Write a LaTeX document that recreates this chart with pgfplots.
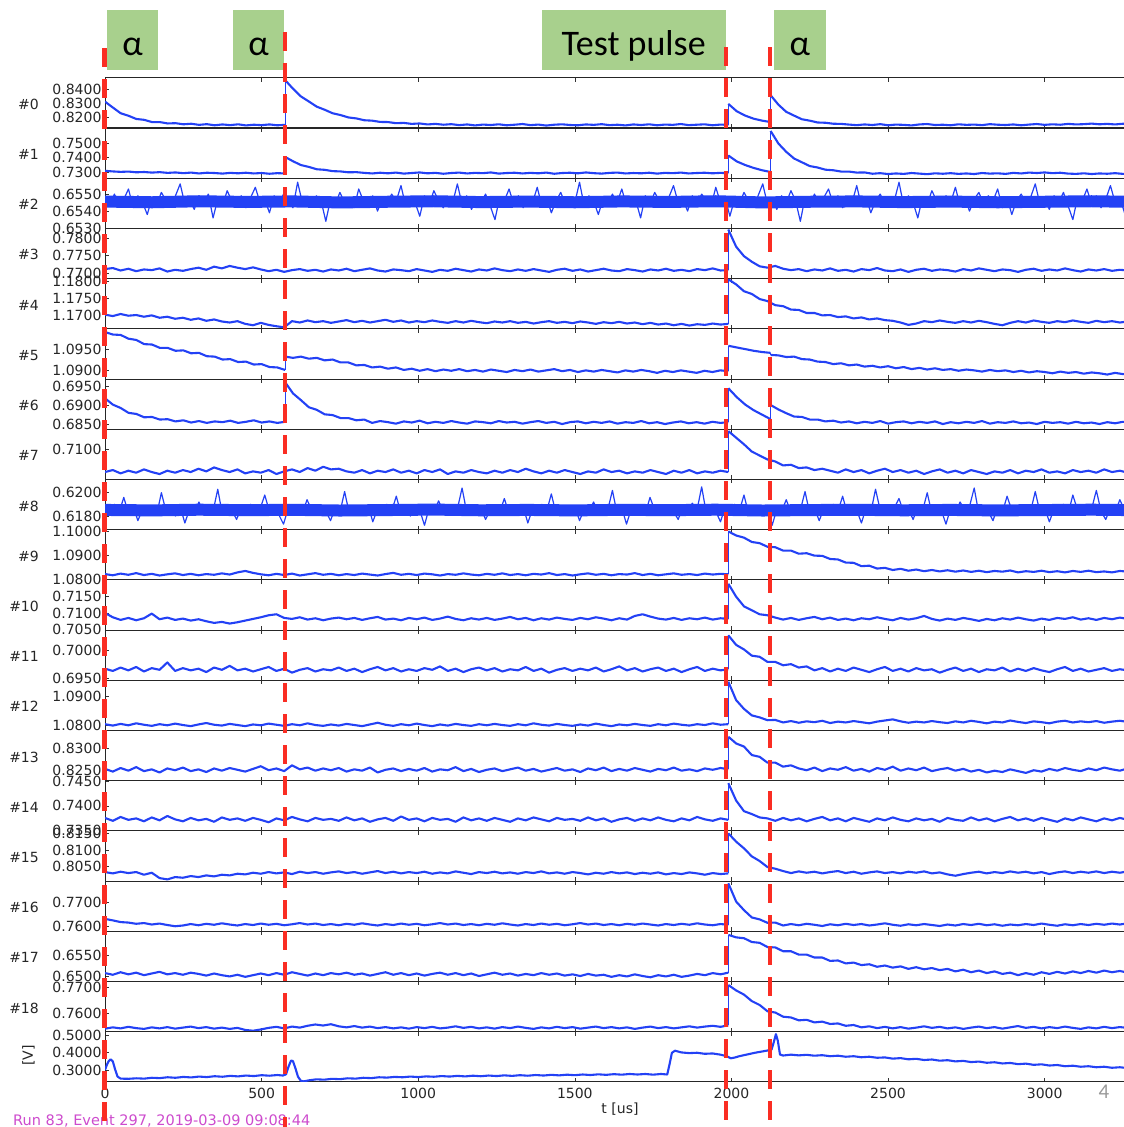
\documentclass[border=0pt]{standalone}
\usepackage{pgfplots}
\pgfplotsset{compat=1.18}
\usepackage{fontspec}
\setmainfont{DejaVu Sans}
\newfontfamily\carl{Carlito}
\definecolor{trc}{RGB}{35,65,245}
\definecolor{rdc}{RGB}{250,45,35}
\definecolor{gbc}{RGB}{168,208,141}
\definecolor{mgc}{RGB}{205,75,205}
\newcommand\tl{\fontsize{14}{14}\selectfont}
\pgfplotsset{
 panel/.style={scale only axis,width=1024.2pt,height=50.2pt,anchor=north west,
  xmin=0,xmax=3270,xtick={0,500,...,3000},xticklabels={},scaled y ticks=false,scaled x ticks=false,
  tick align=inside,major tick length=4pt,tick style={black!80,line width=0.6pt},
  axis line style={black!85,line width=0.8pt},
  yticklabel style={font=\tl,text=black!85},
  xticklabel style={font=\tl,text=black!85,yshift=-3pt}},
 tr/.style={color=trc,line width=2.1pt,mark=none,line join=round},
 jp/.style={color=trc,line width=1.1pt,mark=none},
 core/.style={color=trc,line width=12pt,mark=none,line join=round}
}
\begin{document}
\begin{tikzpicture}
\path[use as bounding box] (0,0) rectangle (1124pt,-1127pt);
% ---------- #0
\begin{axis}[panel,at={(105pt,-77.7pt)},ymin=0.81243,ymax=0.84829,ytick={0.82,0.83,0.84},yticklabels={0.8200,0.8300,0.8400}]
\addplot[tr] table[x expr=\coordindex*25,y index=0,header=false,row sep=\\]{0.8312\\0.8270\\0.8229\\0.8211\\0.8188\\0.8182\\0.8166\\0.8166\\0.8156\\0.8158\\0.8150\\0.8154\\0.8146\\0.8151\\0.8143\\0.8149\\0.8144\\0.8150\\0.8142\\0.8147\\0.8144\\0.8149\\0.8143\\0.8146\\};
\addplot[jp] coordinates{(575,0.8146)(575,0.8466)};
\addplot[tr] table[x expr=575+\coordindex*25.268,y index=0,header=false,row sep=\\]{0.8466\\0.8404\\0.8349\\0.8313\\0.8276\\0.8254\\0.8229\\0.8216\\0.8199\\0.8192\\0.8179\\0.8176\\0.8167\\0.8166\\0.8158\\0.8160\\0.8153\\0.8156\\0.8149\\0.8153\\0.8147\\
0.8151\\0.8144\\0.8149\\0.8142\\0.8148\\0.8145\\0.8150\\0.8143\\0.8147\\0.8152\\0.8144\\0.8148\\0.8141\\0.8147\\0.8150\\0.8145\\0.8143\\0.8149\\0.8146\\0.8151\\0.8144\\0.8147\\0.8142\\0.8149\\0.8145\\0.8150\\0.8143\\0.8148\\0.8146\\0.8152\\0.8144\\0.8147\\0.8150\\0.8143\\0.8148\\0.8146\\};
\addplot[jp] coordinates{(1990,0.8146)(1990,0.8296)};
\addplot[tr] table[x expr=1990+\coordindex*27,y index=0,header=false,row sep=\\]{0.8296\\0.8243\\0.8212\\0.8190\\0.8176\\0.8166\\};
\addplot[jp] coordinates{(2125,0.8166)(2125,0.8358)};
\addplot[tr] table[x expr=2125+\coordindex*25,y index=0,header=false,row sep=\\]{0.8358\\0.8290\\0.8239\\0.8212\\0.8186\\0.8176\\0.8163\\0.8161\\0.8154\\0.8153\\0.8148\\
0.8144\\0.8149\\0.8145\\0.8151\\0.8143\\0.8148\\0.8146\\0.8142\\0.8149\\0.8152\\0.8145\\0.8147\\0.8143\\0.8150\\0.8146\\0.8148\\0.8144\\0.8151\\0.8147\\0.8145\\0.8149\\0.8143\\0.8148\\0.8152\\0.8146\\0.8150\\0.8147\\0.8153\\0.8149\\0.8151\\0.8155\\0.8150\\0.8153\\0.8149\\0.8154\\0.8151\\};
\end{axis}
% ---------- #1
\begin{axis}[panel,at={(105pt,-127.9pt)},ymin=0.7260,ymax=0.7606,ytick={0.73,0.74,0.75},yticklabels={0.7300,0.7400,0.7500}]
\addplot[tr] table[x expr=\coordindex*25,y index=0,header=false,row sep=\\]{0.7310\\0.7306\\0.7303\\0.7305\\0.7300\\0.7302\\0.7298\\0.7301\\0.7296\\0.7299\\0.7294\\0.7298\\0.7292\\0.7297\\0.7295\\0.7291\\0.7296\\0.7293\\0.7297\\0.7292\\0.7295\\0.7290\\0.7294\\0.7292\\};
\addplot[jp] coordinates{(575,0.7292)(575,0.7406)};
\addplot[tr] table[x expr=575+\coordindex*25.268,y index=0,header=false,row sep=\\]{0.7406\\0.7376\\0.7350\\0.7337\\0.7321\\0.7317\\0.7308\\0.7306\\0.7300\\0.7301\\0.7296\\
0.7292\\0.7297\\0.7293\\0.7298\\0.7291\\0.7295\\0.7299\\0.7293\\0.7296\\0.7290\\0.7295\\0.7298\\0.7292\\0.7296\\0.7294\\0.7299\\0.7291\\0.7295\\0.7297\\0.7292\\0.7296\\0.7293\\0.7298\\0.7290\\0.7295\\0.7297\\0.7293\\0.7299\\0.7294\\0.7291\\0.7296\\0.7298\\0.7292\\0.7295\\0.7293\\0.7297\\0.7291\\0.7296\\0.7294\\0.7298\\0.7292\\0.7295\\0.7297\\0.7293\\0.7296\\0.7294\\};
\addplot[jp] coordinates{(1990,0.7294)(1990,0.7416)};
\addplot[tr] table[x expr=1990+\coordindex*27,y index=0,header=false,row sep=\\]{0.7416\\0.7375\\0.7350\\0.7330\\0.7314\\0.7302\\};
\addplot[jp] coordinates{(2125,0.7302)(2125,0.7585)};
\addplot[tr] table[x expr=2125+\coordindex*25,y index=0,header=false,row sep=\\]{0.7585\\0.7498\\0.7441\\0.7395\\0.7369\\0.7343\\0.7333\\0.7318\\0.7314\\0.7305\\0.7305\\0.7298\\0.7299\\
0.7290\\0.7294\\0.7288\\0.7292\\0.7289\\0.7295\\0.7291\\0.7287\\0.7293\\0.7290\\0.7294\\0.7289\\0.7292\\0.7288\\0.7295\\0.7291\\0.7293\\0.7289\\0.7296\\0.7292\\0.7298\\0.7295\\0.7299\\0.7294\\0.7297\\0.7291\\0.7289\\0.7293\\0.7288\\0.7292\\0.7290\\0.7294\\0.7289\\0.7292\\};
\end{axis}
% ---------- #2
\begin{axis}[panel,at={(105pt,-178.1pt)},ymin=0.65299,ymax=0.65594,ytick={0.653,0.654,0.655},yticklabels={0.6530,0.6540,0.6550}]
\addplot[core] table[x expr=\coordindex*150,y index=0,header=false,row sep=\\]{0.65456\\0.65452\\0.65458\\0.65454\\0.65457\\0.65451\\0.65455\\0.65458\\0.65453\\0.65456\\0.65452\\0.65457\\0.65454\\0.65458\\0.65451\\0.65455\\0.65457\\0.65453\\0.65456\\0.65452\\0.65455\\0.65458\\0.65454\\};
\addplot[tr,line width=1.2pt] table[x expr=\coordindex*15,y index=0,header=false,row sep=\\]{
0.6548\\0.6543\\0.6550\\0.6544\\0.6547\\0.6553\\0.6542\\0.6549\\0.6545\\0.6538\\0.6548\\0.6544\\0.6551\\0.6546\\0.6543\\
0.6549\\0.6556\\0.6544\\0.6547\\0.6541\\0.6549\\0.6545\\0.6550\\0.6536\\0.6547\\0.6543\\0.6552\\0.6546\\0.6544\\0.6549\\
0.6542\\0.6548\\0.6554\\0.6545\\0.6547\\0.6539\\0.6549\\0.6544\\0.6550\\0.6546\\0.6542\\0.6557\\0.6545\\0.6548\\0.6543\\
0.6549\\0.6546\\0.6534\\0.6547\\0.6544\\0.6551\\0.6545\\0.6548\\0.6542\\0.6553\\0.6546\\0.6543\\0.6549\\0.6540\\0.6547\\
0.6544\\0.6550\\0.6546\\0.6555\\0.6543\\0.6548\\0.6545\\0.6537\\0.6549\\0.6544\\0.6552\\0.6546\\0.6542\\0.6548\\0.6545\\
0.6556\\0.6544\\0.6549\\0.6541\\0.6547\\0.6545\\0.6550\\0.6543\\0.6535\\0.6548\\0.6546\\0.6553\\0.6544\\0.6549\\0.6542\\
0.6547\\0.6545\\0.6554\\0.6543\\0.6548\\0.6539\\0.6546\\0.6551\\0.6544\\0.6548\\0.6545\\0.6557\\0.6543\\0.6549\\0.6546\\
0.6538\\0.6547\\0.6544\\0.6550\\0.6545\\0.6553\\0.6543\\0.6548\\0.6546\\0.6536\\0.6549\\0.6544\\0.6551\\0.6546\\0.6543\\
0.6548\\0.6555\\0.6545\\0.6547\\0.6540\\0.6549\\0.6544\\0.6550\\0.6546\\0.6543\\0.6554\\0.6545\\0.6548\\0.6537\\0.6547\\
0.6544\\0.6551\\0.6546\\0.6543\\0.6549\\0.6556\\0.6544\\0.6547\\0.6541\\0.6549\\0.6545\\0.6552\\0.6546\\0.6534\\0.6548\\
0.6543\\0.6550\\0.6545\\0.6548\\0.6553\\0.6544\\0.6549\\0.6542\\0.6547\\0.6545\\0.6555\\0.6543\\0.6548\\0.6539\\0.6546\\
0.6550\\0.6544\\0.6548\\0.6546\\0.6557\\0.6543\\0.6549\\0.6545\\0.6536\\0.6548\\0.6544\\0.6552\\0.6546\\0.6543\\0.6549\\
0.6545\\0.6554\\0.6543\\0.6548\\0.6540\\0.6547\\0.6551\\0.6544\\0.6549\\0.6546\\0.6553\\0.6542\\0.6548\\0.6538\\0.6546\\
0.6550\\0.6545\\0.6548\\0.6556\\0.6544\\0.6547\\0.6541\\0.6549\\0.6545\\0.6551\\0.6543\\0.6535\\0.6548\\0.6546\\0.6553\\
0.6544\\0.6549\\0.6542\\0.6547\\0.6555\\0.6545\\0.6548\\0.6539\\0.6546\\};
\end{axis}
% ---------- #3
\begin{axis}[panel,at={(105pt,-228.3pt)},ymin=0.76851,ymax=0.78286,ytick={0.77,0.775,0.78},yticklabels={0.7700,0.7750,0.7800}]
\addplot[tr] table[x expr=\coordindex*24.875,y index=0,header=false,row sep=\\]{
0.7712\\0.7715\\0.7708\\0.7713\\0.7706\\0.7711\\0.7709\\0.7714\\0.7705\\0.7710\\
0.7707\\0.7712\\0.7716\\0.7710\\0.7719\\0.7714\\0.7721\\0.7716\\0.7712\\0.7717\\
0.7711\\0.7706\\0.7710\\0.7704\\0.7709\\0.7712\\0.7707\\0.7710\\0.7705\\0.7711\\
0.7708\\0.7713\\0.7706\\0.7710\\0.7714\\0.7708\\0.7705\\0.7711\\0.7709\\0.7706\\
0.7712\\0.7708\\0.7704\\0.7710\\0.7707\\0.7713\\0.7709\\0.7705\\0.7711\\0.7708\\
0.7714\\0.7709\\0.7706\\0.7711\\0.7707\\0.7712\\0.7708\\0.7704\\0.7710\\0.7713\\
0.7707\\0.7711\\0.7705\\0.7709\\0.7713\\0.7708\\0.7706\\0.7712\\0.7709\\0.7705\\
0.7711\\0.7708\\0.7713\\0.7707\\0.7710\\0.7706\\0.7712\\0.7709\\0.7714\\0.7708\\0.7709\\};
\addplot[jp] coordinates{(1990,0.7709)(1990,0.7825)};
\addplot[tr] table[x expr=1990+\coordindex*25,y index=0,header=false,row sep=\\]{
0.7825\\0.7776\\0.7749\\0.7733\\0.7720\\0.7716\\0.7721\\0.7713\\0.7709\\0.7712\\
0.7706\\0.7711\\0.7708\\0.7714\\0.7707\\0.7710\\0.7705\\0.7712\\0.7709\\0.7715\\
0.7708\\0.7706\\0.7711\\0.7704\\0.7710\\0.7713\\0.7707\\0.7711\\0.7709\\0.7705\\
0.7712\\0.7708\\0.7714\\0.7710\\0.7706\\0.7711\\0.7709\\0.7704\\0.7710\\0.7713\\
0.7707\\0.7711\\0.7708\\0.7714\\0.7709\\0.7705\\0.7711\\0.7708\\0.7712\\0.7707\\0.7710\\0.7708\\};
\end{axis}
% ---------- #4
\begin{axis}[panel,at={(105pt,-278.5pt)},ymin=1.16618,ymax=1.18094,ytick={1.17,1.175,1.18},yticklabels={1.1700,1.1750,1.1800}]
\addplot[tr] table[x expr=\coordindex*24.875,y index=0,header=false,row sep=\\]{
1.1703\\1.1699\\1.1705\\1.1700\\1.1702\\1.1697\\1.1701\\1.1694\\1.1697\\1.1691\\
1.1694\\1.1688\\1.1692\\1.1685\\1.1689\\1.1683\\1.1680\\1.1684\\1.1676\\1.1672\\
1.1679\\1.1673\\1.1669\\1.1666\\1.1684\\1.1680\\1.1686\\1.1681\\1.1684\\1.1679\\
1.1683\\1.1687\\1.1681\\1.1685\\1.1680\\1.1684\\1.1688\\1.1682\\1.1686\\1.1680\\
1.1684\\1.1681\\1.1686\\1.1682\\1.1679\\1.1684\\1.1680\\1.1685\\1.1681\\1.1678\\
1.1683\\1.1680\\1.1684\\1.1679\\1.1682\\1.1677\\1.1681\\1.1684\\1.1679\\1.1682\\
1.1678\\1.1683\\1.1680\\1.1676\\1.1681\\1.1678\\1.1682\\1.1677\\1.1680\\1.1675\\
1.1679\\1.1674\\1.1677\\1.1672\\1.1676\\1.1671\\1.1675\\1.1673\\1.1677\\1.1674\\1.1676\\};
\addplot[jp] coordinates{(1990,1.1676)(1990,1.1807)};
\addplot[tr] table[x expr=1990+\coordindex*25,y index=0,header=false,row sep=\\]{
1.1807\\1.1792\\1.1772\\1.1764\\1.1749\\1.1743\\1.1731\\1.1728\\1.1718\\1.1717\\1.1708\\1.1708\\1.1701\\1.1702\\1.1696\\1.1698\\1.1692\\1.1695\\1.1689\\1.1692\\1.1687\\
1.1685\\1.1680\\1.1673\\1.1677\\1.1684\\1.1681\\1.1686\\1.1682\\1.1679\\1.1684\\
1.1680\\1.1685\\1.1681\\1.1676\\1.1672\\1.1679\\1.1684\\1.1680\\1.1686\\1.1682\\
1.1679\\1.1684\\1.1681\\1.1686\\1.1682\\1.1679\\1.1685\\1.1681\\1.1684\\1.1680\\1.1683\\};
\end{axis}
% ---------- #5
\begin{axis}[panel,at={(105pt,-328.7pt)},ymin=1.08785,ymax=1.0999,ytick={1.09,1.095},yticklabels={1.0900,1.0950}]
\addplot[tr] table[x expr=\coordindex*25,y index=0,header=false,row sep=\\]{1.0991\\1.0985\\1.0984\\1.0975\\1.0972\\1.0962\\1.0961\\1.0953\\1.0953\\1.0946\\1.0947\\1.0940\\1.0941\\1.0933\\1.0932\\1.0925\\1.0926\\1.0919\\1.0920\\1.0913\\1.0914\\1.0907\\1.0906\\1.0900\\};
\addplot[jp] coordinates{(575,1.0900)(575,1.0932)};
\addplot[tr] table[x expr=575+\coordindex*25.268,y index=0,header=false,row sep=\\]{
1.0932\\1.0929\\1.0932\\1.0927\\1.0929\\1.0923\\1.0925\\1.0918\\1.0918\\1.0911\\
1.0912\\1.0906\\1.0908\\1.0903\\1.0906\\1.0900\\1.0903\\1.0898\\1.0902\\1.0897\\
1.0901\\1.0898\\1.0902\\1.0897\\1.0900\\1.0896\\1.0901\\1.0898\\1.0895\\1.0900\\
1.0897\\1.0901\\1.0896\\1.0899\\1.0902\\1.0897\\1.0900\\1.0895\\1.0899\\1.0896\\
1.0900\\1.0897\\1.0894\\1.0899\\1.0896\\1.0900\\1.0897\\1.0893\\1.0898\\1.0895\\
1.0899\\1.0896\\1.0893\\1.0898\\1.0895\\1.0899\\1.0897\\};
\addplot[jp] coordinates{(1990,1.0897)(1990,1.0958)};
\addplot[tr] table[x expr=1990+\coordindex*27,y index=0,header=false,row sep=\\]{1.0958\\1.0954\\1.0950\\1.0946\\1.0943\\1.0941\\};
\addplot[jp] coordinates{(2125,1.0941)(2125,1.0936)};
\addplot[tr] table[x expr=2125+\coordindex*25,y index=0,header=false,row sep=\\]{
1.0936\\1.0935\\1.0931\\1.0932\\1.0926\\1.0925\\1.0920\\1.0919\\1.0914\\1.0916\\
1.0911\\1.0913\\1.0908\\1.0910\\1.0906\\1.0909\\1.0904\\1.0907\\1.0902\\1.0905\\
1.0901\\1.0904\\1.0900\\1.0902\\1.0898\\1.0901\\1.0899\\1.0896\\1.0900\\1.0897\\
1.0899\\1.0895\\1.0898\\1.0894\\1.0897\\1.0895\\1.0892\\1.0896\\1.0893\\1.0895\\
1.0891\\1.0894\\1.0892\\1.0889\\1.0893\\1.0890\\1.0892\\};
\end{axis}
% ---------- #6
\begin{axis}[panel,at={(105pt,-378.9pt)},ymin=0.68364,ymax=0.69709,ytick={0.685,0.69,0.695},yticklabels={0.6850,0.6900,0.6950}]
\addplot[tr] table[x expr=\coordindex*25,y index=0,header=false,row sep=\\]{0.6919\\0.6902\\0.6893\\0.6880\\0.6877\\0.6868\\0.6869\\0.6862\\0.6863\\0.6857\\0.6860\\0.6854\\0.6858\\0.6853\\0.6857\\0.6855\\0.6859\\0.6853\\0.6856\\0.6860\\0.6854\\0.6857\\0.6853\\0.6856\\};
\addplot[jp] coordinates{(575,0.6856)(575,0.6962)};
\addplot[tr] table[x expr=575+\coordindex*25.268,y index=0,header=false,row sep=\\]{
0.6962\\0.6932\\0.6914\\0.6895\\0.6888\\0.6876\\0.6874\\0.6866\\0.6866\\0.6860\\0.6862\\
0.6853\\0.6858\\0.6855\\0.6851\\0.6857\\0.6854\\0.6859\\0.6852\\0.6856\\0.6853\\
0.6858\\0.6854\\0.6851\\0.6857\\0.6855\\0.6852\\0.6858\\0.6854\\0.6856\\0.6851\\
0.6855\\0.6858\\0.6853\\0.6856\\0.6850\\0.6855\\0.6857\\0.6852\\0.6856\\0.6853\\
0.6857\\0.6851\\0.6855\\0.6853\\0.6858\\0.6852\\0.6855\\0.6850\\0.6854\\0.6857\\
0.6852\\0.6855\\0.6851\\0.6856\\0.6853\\0.6855\\};
\addplot[jp] coordinates{(1990,0.6855)(1990,0.6946)};
\addplot[tr] table[x expr=1990+\coordindex*27,y index=0,header=false,row sep=\\]{0.6946\\0.6922\\0.6902\\0.6887\\0.6875\\0.6863\\};
\addplot[jp] coordinates{(2125,0.6863)(2125,0.6901)};
\addplot[tr] table[x expr=2125+\coordindex*25,y index=0,header=false,row sep=\\]{
0.6901\\0.6889\\0.6879\\0.6870\\0.6869\\0.6862\\0.6862\\0.6857\\
0.6859\\0.6854\\0.6857\\0.6852\\0.6856\\0.6853\\0.6858\\0.6851\\0.6855\\0.6857\\
0.6852\\0.6856\\0.6853\\0.6857\\0.6850\\0.6855\\0.6852\\0.6856\\0.6853\\0.6858\\
0.6851\\0.6855\\0.6853\\0.6857\\0.6852\\0.6854\\0.6850\\0.6856\\0.6853\\0.6855\\
0.6851\\0.6856\\0.6852\\0.6854\\0.6850\\0.6855\\0.6852\\0.6856\\0.6853\\};
\end{axis}
% ---------- #7
\begin{axis}[panel,at={(105pt,-429.1pt)},ymin=0.7055,ymax=0.7131,ytick={0.71},yticklabels={0.7100}]
\addplot[tr] table[x expr=\coordindex*24.875,y index=0,header=false,row sep=\\]{
0.7066\\0.7069\\0.7064\\0.7068\\0.7065\\0.7070\\0.7066\\0.7063\\0.7068\\0.7065\\
0.7069\\0.7066\\0.7071\\0.7067\\0.7073\\0.7069\\0.7066\\0.7070\\0.7064\\0.7067\\
0.7065\\0.7069\\0.7063\\0.7067\\0.7070\\0.7066\\0.7072\\0.7068\\0.7074\\0.7070\\
0.7071\\0.7067\\0.7065\\0.7069\\0.7064\\0.7068\\0.7066\\0.7070\\0.7065\\0.7068\\
0.7064\\0.7069\\0.7066\\0.7070\\0.7063\\0.7067\\0.7065\\0.7069\\0.7066\\0.7064\\
0.7068\\0.7065\\0.7069\\0.7066\\0.7071\\0.7067\\0.7064\\0.7068\\0.7065\\0.7069\\
0.7066\\0.7063\\0.7067\\0.7065\\0.7070\\0.7066\\0.7068\\0.7064\\0.7067\\0.7065\\
0.7069\\0.7066\\0.7063\\0.7068\\0.7065\\0.7069\\0.7064\\0.7067\\0.7065\\0.7068\\0.7066\\};
\addplot[jp] coordinates{(1990,0.7066)(1990,0.7128)};
\addplot[tr] table[x expr=1990+\coordindex*25,y index=0,header=false,row sep=\\]{
0.7128\\0.7118\\0.7108\\0.7097\\0.7091\\0.7085\\0.7082\\0.7076\\0.7077\\0.7072\\0.7073\\0.7069\\0.7071\\
0.7068\\0.7065\\0.7070\\0.7066\\0.7069\\0.7064\\0.7068\\0.7071\\0.7066\\0.7069\\
0.7065\\0.7068\\0.7063\\0.7067\\0.7070\\0.7065\\0.7068\\0.7064\\0.7069\\0.7066\\
0.7063\\0.7067\\0.7065\\0.7069\\0.7064\\0.7068\\0.7066\\0.7070\\0.7065\\0.7067\\
0.7064\\0.7069\\0.7066\\0.7068\\0.7065\\0.7070\\0.7066\\0.7068\\0.7065\\};
\end{axis}
% ---------- #8
\begin{axis}[panel,at={(105pt,-479.3pt)},ymin=0.61684,ymax=0.62115,ytick={0.618,0.62},yticklabels={0.6180,0.6200}]
\addplot[core] table[x expr=\coordindex*150,y index=0,header=false,row sep=\\]{0.61852\\0.61848\\0.61854\\0.61850\\0.61853\\0.61847\\0.61851\\0.61855\\0.61849\\0.61852\\0.61848\\0.61853\\0.61850\\0.61854\\0.61847\\0.61851\\0.61853\\0.61849\\0.61852\\0.61848\\0.61851\\0.61854\\0.61850\\};
\addplot[tr,line width=1.2pt] table[x expr=\coordindex*15,y index=0,header=false,row sep=\\]{
0.6187\\0.6181\\0.6190\\0.6183\\0.6196\\0.6182\\0.6188\\0.6176\\0.6186\\0.6183\\0.6189\\0.6181\\0.6200\\0.6184\\0.6187\\
0.6180\\0.6188\\0.6174\\0.6186\\0.6183\\0.6192\\0.6182\\0.6187\\0.6184\\0.6203\\0.6181\\0.6188\\0.6185\\0.6177\\0.6187\\
0.6183\\0.6190\\0.6182\\0.6186\\0.6198\\0.6184\\0.6188\\0.6181\\0.6173\\0.6187\\0.6184\\0.6189\\0.6182\\0.6194\\0.6185\\
0.6182\\0.6188\\0.6184\\0.6176\\0.6187\\0.6183\\0.6201\\0.6182\\0.6188\\0.6185\\0.6181\\0.6189\\0.6175\\0.6186\\0.6183\\
0.6190\\0.6184\\0.6197\\0.6182\\0.6187\\0.6180\\0.6188\\0.6185\\0.6172\\0.6187\\0.6183\\0.6193\\0.6184\\0.6188\\0.6182\\
0.6186\\0.6204\\0.6183\\0.6188\\0.6181\\0.6187\\0.6177\\0.6185\\0.6189\\0.6183\\0.6195\\0.6182\\0.6187\\0.6184\\0.6188\\
0.6174\\0.6186\\0.6183\\0.6190\\0.6184\\0.6199\\0.6182\\0.6187\\0.6185\\0.6181\\0.6188\\0.6176\\0.6186\\0.6184\\0.6192\\
0.6183\\0.6188\\0.6185\\0.6202\\0.6182\\0.6187\\0.6173\\0.6186\\0.6184\\0.6189\\0.6182\\0.6196\\0.6185\\0.6188\\0.6181\\
0.6187\\0.6184\\0.6177\\0.6188\\0.6183\\0.6191\\0.6185\\0.6205\\0.6182\\0.6187\\0.6184\\0.6175\\0.6188\\0.6183\\0.6190\\
0.6184\\0.6198\\0.6182\\0.6187\\0.6185\\0.6181\\0.6189\\0.6172\\0.6186\\0.6184\\0.6194\\0.6183\\0.6188\\0.6185\\0.6201\\
0.6182\\0.6187\\0.6176\\0.6186\\0.6183\\0.6190\\0.6184\\0.6197\\0.6182\\0.6188\\0.6185\\0.6174\\0.6187\\0.6183\\0.6203\\
0.6185\\0.6188\\0.6181\\0.6187\\0.6195\\0.6183\\0.6186\\0.6177\\0.6188\\0.6184\\0.6200\\0.6182\\0.6187\\0.6185\\0.6173\\
0.6187\\0.6183\\0.6192\\0.6185\\0.6188\\0.6204\\0.6182\\0.6186\\0.6184\\0.6176\\0.6188\\0.6183\\0.6197\\0.6185\\0.6187\\
0.6181\\0.6189\\0.6184\\0.6201\\0.6183\\0.6187\\0.6175\\0.6186\\0.6184\\0.6190\\0.6182\\0.6198\\0.6185\\0.6188\\0.6183\\
0.6186\\0.6202\\0.6184\\0.6177\\0.6187\\0.6183\\0.6194\\0.6185\\0.6188\\};
\end{axis}
% ---------- #9
\begin{axis}[panel,at={(105pt,-529.5pt)},ymin=1.07995,ymax=1.1009,ytick={1.08,1.09,1.1},yticklabels={1.0800,1.0900,1.1000}]
\addplot[tr] table[x expr=\coordindex*24.875,y index=0,header=false,row sep=\\]{
1.0823\\1.0818\\1.0825\\1.0820\\1.0827\\1.0819\\1.0824\\1.0817\\1.0822\\1.0826\\
1.0819\\1.0824\\1.0818\\1.0823\\1.0820\\1.0826\\1.0821\\1.0830\\1.0836\\1.0828\\
1.0822\\1.0818\\1.0824\\1.0819\\1.0825\\1.0817\\1.0822\\1.0827\\1.0820\\1.0824\\
1.0818\\1.0823\\1.0819\\1.0825\\1.0821\\1.0817\\1.0823\\1.0828\\1.0820\\1.0824\\
1.0819\\1.0825\\1.0822\\1.0817\\1.0823\\1.0820\\1.0826\\1.0821\\1.0818\\1.0824\\
1.0820\\1.0826\\1.0819\\1.0823\\1.0818\\1.0824\\1.0821\\1.0827\\1.0819\\1.0823\\
1.0817\\1.0822\\1.0826\\1.0820\\1.0824\\1.0818\\1.0823\\1.0821\\1.0827\\1.0819\\
1.0824\\1.0818\\1.0822\\1.0826\\1.0820\\1.0823\\1.0819\\1.0825\\1.0821\\1.0824\\1.0822\\};
\addplot[jp] coordinates{(1990,1.0822)(1990,1.1001)};
\addplot[tr] table[x expr=1990+\coordindex*25,y index=0,header=false,row sep=\\]{
1.1001\\1.0984\\1.0975\\1.0957\\1.0952\\1.0937\\1.0935\\1.0921\\1.0921\\1.0908\\
1.0910\\1.0900\\1.0899\\1.0886\\1.0884\\1.0871\\1.0870\\1.0856\\1.0858\\1.0846\\
1.0849\\1.0840\\1.0845\\1.0837\\1.0842\\1.0835\\1.0840\\1.0834\\1.0839\\1.0833\\
1.0838\\1.0832\\1.0837\\1.0831\\1.0836\\1.0833\\1.0838\\1.0830\\1.0835\\1.0832\\
1.0837\\1.0831\\1.0835\\1.0830\\1.0836\\1.0832\\1.0837\\1.0831\\1.0834\\1.0830\\1.0836\\1.0833\\};
\end{axis}
% ---------- #10
\begin{axis}[panel,at={(105pt,-579.7pt)},ymin=0.70499,ymax=0.72012,ytick={0.705,0.71,0.715},yticklabels={0.7050,0.7100,0.7150}]
\addplot[tr] table[x expr=\coordindex*24.875,y index=0,header=false,row sep=\\]{
0.7101\\0.7088\\0.7080\\0.7086\\0.7079\\0.7085\\0.7099\\0.7082\\0.7087\\0.7080\\
0.7084\\0.7078\\0.7082\\0.7076\\0.7071\\0.7074\\0.7069\\0.7073\\0.7078\\0.7083\\
0.7088\\0.7094\\0.7097\\0.7086\\0.7083\\0.7088\\0.7081\\0.7085\\0.7079\\0.7084\\
0.7087\\0.7082\\0.7086\\0.7080\\0.7085\\0.7089\\0.7081\\0.7084\\0.7079\\0.7086\\
0.7082\\0.7087\\0.7080\\0.7084\\0.7090\\0.7083\\0.7079\\0.7085\\0.7081\\0.7086\\
0.7080\\0.7084\\0.7089\\0.7082\\0.7086\\0.7079\\0.7085\\0.7081\\0.7087\\0.7083\\
0.7080\\0.7086\\0.7082\\0.7088\\0.7084\\0.7079\\0.7085\\0.7081\\0.7092\\0.7097\\
0.7090\\0.7084\\0.7081\\0.7086\\0.7080\\0.7085\\0.7082\\0.7087\\0.7081\\0.7085\\0.7083\\};
\addplot[jp] coordinates{(1990,0.7083)(1990,0.7189)};
\addplot[tr] table[x expr=1990+\coordindex*25,y index=0,header=false,row sep=\\]{
0.7189\\0.7150\\0.7121\\0.7109\\0.7097\\0.7094\\0.7087\\
0.7081\\0.7086\\0.7080\\0.7085\\0.7089\\0.7082\\0.7087\\0.7080\\0.7084\\0.7079\\
0.7085\\0.7082\\0.7088\\0.7083\\0.7079\\0.7086\\0.7081\\0.7085\\0.7092\\0.7083\\
0.7078\\0.7084\\0.7080\\0.7086\\0.7082\\0.7077\\0.7083\\0.7079\\0.7085\\0.7081\\
0.7087\\0.7082\\0.7078\\0.7084\\0.7080\\0.7086\\0.7083\\0.7088\\0.7081\\0.7085\\
0.7080\\0.7086\\0.7082\\0.7087\\0.7083\\};
\end{axis}
% ---------- #11
\begin{axis}[panel,at={(105pt,-629.9pt)},ymin=0.69468,ymax=0.70355,ytick={0.695,0.7},yticklabels={0.6950,0.7000}]
\addplot[tr] table[x expr=\coordindex*24.875,y index=0,header=false,row sep=\\]{
0.6967\\0.6963\\0.6969\\0.6964\\0.6970\\0.6962\\0.6968\\0.6965\\0.6978\\0.6963\\
0.6968\\0.6964\\0.6967\\0.6961\\0.6969\\0.6965\\0.6972\\0.6964\\0.6967\\0.6962\\
0.6966\\0.6970\\0.6963\\0.6967\\0.6960\\0.6965\\0.6968\\0.6962\\0.6966\\0.6964\\
0.6969\\0.6963\\0.6967\\0.6961\\0.6966\\0.6970\\0.6964\\0.6968\\0.6962\\0.6966\\
0.6963\\0.6968\\0.6965\\0.6971\\0.6963\\0.6967\\0.6961\\0.6966\\0.6969\\0.6964\\
0.6968\\0.6962\\0.6966\\0.6964\\0.6970\\0.6963\\0.6967\\0.6960\\0.6965\\0.6968\\
0.6963\\0.6967\\0.6964\\0.6969\\0.6962\\0.6966\\0.6971\\0.6964\\0.6968\\0.6962\\
0.6966\\0.6969\\0.6963\\0.6967\\0.6961\\0.6966\\0.6970\\0.6963\\0.6967\\0.6964\\0.6966\\};
\addplot[jp] coordinates{(1990,0.6966)(1990,0.7026)};
\addplot[tr] table[x expr=1990+\coordindex*25,y index=0,header=false,row sep=\\]{
0.7026\\0.7009\\0.7001\\0.6990\\0.6988\\0.6979\\0.6979\\0.6973\\0.6975\\0.6969\\0.6971\\
0.6964\\0.6968\\0.6962\\0.6967\\0.6963\\0.6969\\0.6965\\0.6961\\0.6966\\0.6970\\
0.6963\\0.6967\\0.6962\\0.6968\\0.6964\\0.6966\\0.6960\\0.6965\\0.6969\\0.6963\\
0.6967\\0.6961\\0.6966\\0.6964\\0.6969\\0.6962\\0.6967\\0.6963\\0.6968\\0.6964\\
0.6961\\0.6966\\0.6970\\0.6963\\0.6967\\0.6962\\0.6965\\0.6968\\0.6963\\0.6966\\0.6964\\};
\end{axis}
% ---------- #12
\begin{axis}[panel,at={(105pt,-680.1pt)},ymin=1.07813,ymax=1.09587,ytick={1.08,1.09},yticklabels={1.0800,1.0900}]
\addplot[tr] table[x expr=\coordindex*24.875,y index=0,header=false,row sep=\\]{
1.0803\\1.0798\\1.0804\\1.0799\\1.0806\\1.0801\\1.0797\\1.0803\\1.0799\\1.0805\\
1.0800\\1.0796\\1.0802\\1.0807\\1.0801\\1.0798\\1.0804\\1.0800\\1.0796\\1.0802\\
1.0799\\1.0805\\1.0801\\1.0797\\1.0803\\1.0799\\1.0806\\1.0800\\1.0797\\1.0802\\
1.0798\\1.0804\\1.0800\\1.0796\\1.0802\\1.0808\\1.0801\\1.0797\\1.0803\\1.0799\\
1.0805\\1.0800\\1.0796\\1.0802\\1.0798\\1.0804\\1.0800\\1.0797\\1.0803\\1.0799\\
1.0804\\1.0800\\1.0797\\1.0803\\1.0799\\1.0806\\1.0801\\1.0798\\1.0804\\1.0800\\
1.0797\\1.0802\\1.0798\\1.0805\\1.0800\\1.0796\\1.0802\\1.0799\\1.0804\\1.0800\\
1.0797\\1.0803\\1.0799\\1.0805\\1.0801\\1.0798\\1.0803\\1.0800\\1.0806\\1.0801\\1.0803\\};
\addplot[jp] coordinates{(1990,1.0803)(1990,1.0953)};
\addplot[tr] table[x expr=1990+\coordindex*25,y index=0,header=false,row sep=\\]{
1.0953\\1.0888\\1.0857\\1.0834\\1.0827\\1.0817\\1.0818\\
1.0809\\1.0814\\1.0808\\1.0813\\1.0810\\1.0815\\1.0807\\1.0812\\1.0809\\1.0814\\
1.0810\\1.0806\\1.0812\\1.0816\\1.0820\\1.0813\\1.0808\\1.0812\\1.0809\\1.0814\\
1.0810\\1.0807\\1.0813\\1.0809\\1.0815\\1.0811\\1.0806\\1.0812\\1.0809\\1.0816\\
1.0811\\1.0807\\1.0813\\1.0810\\1.0806\\1.0812\\1.0815\\1.0809\\1.0813\\1.0810\\
1.0814\\1.0808\\1.0812\\1.0815\\1.0811\\};
\end{axis}
% ---------- #13
\begin{axis}[panel,at={(105pt,-730.3pt)},ymin=0.8228,ymax=0.83404,ytick={0.825,0.83},yticklabels={0.8250,0.8300}]
\addplot[tr] table[x expr=\coordindex*24.875,y index=0,header=false,row sep=\\]{
0.8254\\0.8248\\0.8256\\0.8250\\0.8258\\0.8249\\0.8253\\0.8246\\0.8255\\0.8251\\
0.8257\\0.8249\\0.8253\\0.8247\\0.8255\\0.8250\\0.8256\\0.8252\\0.8248\\0.8254\\
0.8260\\0.8251\\0.8255\\0.8249\\0.8262\\0.8253\\0.8257\\0.8250\\0.8255\\0.8251\\
0.8256\\0.8248\\0.8253\\0.8250\\0.8257\\0.8246\\0.8252\\0.8255\\0.8249\\0.8254\\
0.8250\\0.8256\\0.8248\\0.8253\\0.8251\\0.8258\\0.8249\\0.8254\\0.8247\\0.8252\\
0.8255\\0.8249\\0.8253\\0.8257\\0.8250\\0.8254\\0.8248\\0.8252\\0.8256\\0.8250\\
0.8253\\0.8247\\0.8255\\0.8251\\0.8257\\0.8249\\0.8254\\0.8250\\0.8256\\0.8252\\
0.8248\\0.8254\\0.8251\\0.8257\\0.8250\\0.8253\\0.8249\\0.8255\\0.8252\\0.8256\\0.8253\\};
\addplot[jp] coordinates{(1990,0.8253)(1990,0.8326)};
\addplot[tr] table[x expr=1990+\coordindex*25,y index=0,header=false,row sep=\\]{
0.8326\\0.8311\\0.8304\\0.8285\\0.8281\\0.8268\\0.8268\\0.8259\\0.8262\\0.8255\\
0.8251\\0.8257\\0.8249\\0.8255\\0.8252\\0.8258\\0.8250\\0.8254\\0.8248\\0.8256\\
0.8252\\0.8259\\0.8250\\0.8255\\0.8251\\0.8257\\0.8249\\0.8253\\0.8256\\0.8250\\
0.8254\\0.8248\\0.8252\\0.8246\\0.8250\\0.8247\\0.8253\\0.8249\\0.8245\\0.8251\\
0.8248\\0.8254\\0.8250\\0.8256\\0.8252\\0.8249\\0.8255\\0.8251\\0.8257\\0.8253\\0.8250\\0.8255\\};
\end{axis}
% ---------- #14
\begin{axis}[panel,at={(105pt,-780.5pt)},ymin=0.73485,ymax=0.74525,ytick={0.735,0.74,0.745},yticklabels={0.7350,0.7400,0.7450}]
\addplot[tr] table[x expr=\coordindex*24.875,y index=0,header=false,row sep=\\]{
0.7375\\0.7369\\0.7377\\0.7371\\0.7374\\0.7368\\0.7376\\0.7370\\0.7379\\0.7372\\
0.7368\\0.7375\\0.7370\\0.7373\\0.7367\\0.7376\\0.7371\\0.7374\\0.7369\\0.7375\\
0.7371\\0.7366\\0.7374\\0.7370\\0.7377\\0.7372\\0.7368\\0.7375\\0.7371\\0.7373\\
0.7369\\0.7376\\0.7370\\0.7374\\0.7367\\0.7372\\0.7375\\0.7369\\0.7378\\0.7371\\
0.7374\\0.7368\\0.7375\\0.7371\\0.7373\\0.7367\\0.7376\\0.7370\\0.7374\\0.7369\\
0.7375\\0.7371\\0.7367\\0.7374\\0.7370\\0.7376\\0.7372\\0.7368\\0.7375\\0.7371\\
0.7373\\0.7369\\0.7376\\0.7370\\0.7374\\0.7367\\0.7372\\0.7375\\0.7369\\0.7374\\
0.7370\\0.7376\\0.7371\\0.7368\\0.7374\\0.7370\\0.7377\\0.7372\\0.7369\\0.7374\\0.7371\\};
\addplot[jp] coordinates{(1990,0.7371)(1990,0.7447)};
\addplot[tr] table[x expr=1990+\coordindex*25,y index=0,header=false,row sep=\\]{
0.7447\\0.7411\\0.7389\\0.7383\\0.7376\\0.7374\\
0.7369\\0.7375\\0.7370\\0.7374\\0.7368\\0.7373\\0.7377\\0.7370\\0.7374\\0.7368\\
0.7375\\0.7371\\0.7367\\0.7374\\0.7370\\0.7376\\0.7371\\0.7368\\0.7374\\0.7370\\
0.7373\\0.7367\\0.7375\\0.7371\\0.7369\\0.7376\\0.7370\\0.7374\\0.7368\\0.7373\\
0.7377\\0.7370\\0.7374\\0.7369\\0.7375\\0.7371\\0.7367\\0.7374\\0.7370\\0.7376\\
0.7372\\0.7368\\0.7374\\0.7370\\0.7375\\0.7371\\};
\end{axis}
% ---------- #15
\begin{axis}[panel,at={(105pt,-830.7pt)},ymin=0.80075,ymax=0.81578,ytick={0.805,0.81,0.815},yticklabels={0.8050,0.8100,0.8150}]
\addplot[tr] table[x expr=\coordindex*24.875,y index=0,header=false,row sep=\\]{
0.8034\\0.8030\\0.8035\\0.8031\\0.8034\\0.8026\\0.8032\\0.8016\\0.8012\\0.8019\\
0.8017\\0.8022\\0.8019\\0.8024\\0.8021\\0.8026\\0.8024\\0.8029\\0.8027\\0.8032\\
0.8029\\0.8034\\0.8030\\0.8033\\0.8028\\0.8035\\0.8031\\0.8034\\0.8029\\0.8033\\
0.8036\\0.8031\\0.8034\\0.8029\\0.8033\\0.8037\\0.8031\\0.8035\\0.8030\\0.8034\\
0.8031\\0.8035\\0.8029\\0.8033\\0.8030\\0.8036\\0.8032\\0.8028\\0.8034\\0.8031\\
0.8035\\0.8030\\0.8033\\0.8029\\0.8034\\0.8031\\0.8036\\0.8030\\0.8033\\0.8029\\
0.8034\\0.8031\\0.8027\\0.8032\\0.8029\\0.8034\\0.8030\\0.8033\\0.8028\\0.8032\\
0.8029\\0.8033\\0.8027\\0.8031\\0.8028\\0.8033\\0.8030\\0.8026\\0.8031\\0.8028\\0.8030\\};
\addplot[jp] coordinates{(1990,0.8030)(1990,0.8150)};
\addplot[tr] table[x expr=1990+\coordindex*25,y index=0,header=false,row sep=\\]{
0.8150\\0.8125\\0.8105\\0.8081\\0.8067\\0.8049\\0.8044\\0.8037\\
0.8031\\0.8036\\0.8032\\0.8035\\0.8030\\0.8034\\0.8037\\0.8031\\0.8035\\0.8029\\
0.8033\\0.8036\\0.8031\\0.8034\\0.8030\\0.8035\\0.8032\\0.8036\\0.8030\\0.8033\\
0.8027\\0.8023\\0.8028\\0.8032\\0.8035\\0.8030\\0.8034\\0.8031\\0.8036\\0.8032\\
0.8035\\0.8030\\0.8034\\0.8028\\0.8033\\0.8036\\0.8031\\0.8035\\0.8032\\0.8036\\
0.8031\\0.8035\\0.8032\\0.8036\\};
\end{axis}
% ---------- #16
\begin{axis}[panel,at={(105pt,-880.9pt)},ymin=0.7582,ymax=0.77877,ytick={0.76,0.77},yticklabels={0.7600,0.7700}]
\addplot[tr] table[x expr=\coordindex*24.875,y index=0,header=false,row sep=\\]{
0.7632\\0.7626\\0.7619\\0.7617\\0.7612\\0.7615\\0.7609\\0.7613\\0.7607\\0.7602\\
0.7605\\0.7611\\0.7606\\0.7612\\0.7608\\0.7614\\0.7609\\0.7605\\0.7611\\0.7607\\
0.7613\\0.7608\\0.7612\\0.7606\\0.7610\\0.7615\\0.7609\\0.7613\\0.7607\\0.7611\\
0.7606\\0.7612\\0.7608\\0.7614\\0.7609\\0.7605\\0.7611\\0.7607\\0.7613\\0.7608\\
0.7612\\0.7606\\0.7610\\0.7615\\0.7609\\0.7613\\0.7607\\0.7611\\0.7606\\0.7612\\
0.7608\\0.7614\\0.7609\\0.7605\\0.7611\\0.7607\\0.7613\\0.7608\\0.7612\\0.7606\\
0.7610\\0.7615\\0.7609\\0.7613\\0.7607\\0.7611\\0.7606\\0.7612\\0.7608\\0.7613\\
0.7609\\0.7605\\0.7611\\0.7607\\0.7612\\0.7608\\0.7614\\0.7609\\0.7606\\0.7611\\0.7608\\};
\addplot[jp] coordinates{(1990,0.7608)(1990,0.7778)};
\addplot[tr] table[x expr=1990+\coordindex*25,y index=0,header=false,row sep=\\]{
0.7778\\0.7703\\0.7668\\0.7638\\0.7630\\0.7616\\0.7617\\
0.7605\\0.7611\\0.7606\\0.7612\\0.7608\\0.7603\\0.7610\\0.7606\\0.7612\\0.7607\\
0.7611\\0.7605\\0.7609\\0.7614\\0.7608\\0.7604\\0.7610\\0.7606\\0.7611\\0.7607\\
0.7603\\0.7609\\0.7605\\0.7611\\0.7607\\0.7612\\0.7606\\0.7610\\0.7604\\0.7609\\
0.7606\\0.7611\\0.7607\\0.7613\\0.7608\\0.7604\\0.7610\\0.7606\\0.7611\\0.7607\\
0.7612\\0.7608\\0.7613\\0.7609\\0.7614\\};
\end{axis}
% ---------- #17
\begin{axis}[panel,at={(105pt,-931.1pt)},ymin=0.64874,ymax=0.66069,ytick={0.65,0.655},yticklabels={0.6500,0.6550}]
\addplot[tr] table[x expr=\coordindex*24.875,y index=0,header=false,row sep=\\]{
0.6507\\0.6503\\0.6509\\0.6504\\0.6508\\0.6502\\0.6506\\0.6510\\0.6504\\0.6507\\
0.6503\\0.6508\\0.6505\\0.6501\\0.6506\\0.6502\\0.6499\\0.6503\\0.6498\\0.6502\\
0.6506\\0.6502\\0.6507\\0.6503\\0.6509\\0.6505\\0.6501\\0.6506\\0.6502\\0.6507\\
0.6504\\0.6508\\0.6503\\0.6506\\0.6501\\0.6505\\0.6509\\0.6503\\0.6507\\0.6502\\
0.6506\\0.6501\\0.6505\\0.6508\\0.6503\\0.6507\\0.6502\\0.6506\\0.6500\\0.6504\\
0.6508\\0.6503\\0.6506\\0.6501\\0.6505\\0.6502\\0.6507\\0.6503\\0.6506\\0.6501\\
0.6504\\0.6500\\0.6505\\0.6501\\0.6503\\0.6498\\0.6502\\0.6499\\0.6504\\0.6500\\
0.6497\\0.6502\\0.6499\\0.6503\\0.6498\\0.6501\\0.6505\\0.6502\\0.6507\\0.6504\\0.6508\\};
\addplot[jp] coordinates{(1990,0.6508)(1990,0.6598)};
\addplot[tr] table[x expr=1990+\coordindex*25,y index=0,header=false,row sep=\\]{
0.6598\\0.6592\\0.6590\\0.6581\\0.6579\\0.6569\\0.6568\\0.6559\\0.6559\\0.6551\\
0.6551\\0.6544\\0.6544\\0.6536\\0.6537\\0.6530\\0.6532\\0.6526\\0.6528\\0.6522\\
0.6525\\0.6520\\0.6523\\0.6517\\0.6521\\0.6516\\0.6519\\0.6514\\0.6517\\0.6511\\
0.6515\\0.6509\\0.6513\\0.6507\\0.6511\\0.6505\\0.6508\\0.6502\\0.6507\\0.6503\\
0.6509\\0.6505\\0.6510\\0.6506\\0.6511\\0.6507\\0.6512\\0.6508\\0.6513\\0.6509\\0.6512\\0.6508\\};
\end{axis}
% ---------- #18
\begin{axis}[panel,at={(105pt,-981.3pt)},ymin=0.753,ymax=0.77231,ytick={0.76,0.77},yticklabels={0.7600,0.7700}]
\addplot[tr] table[x expr=\coordindex*24.875,y index=0,header=false,row sep=\\]{
0.7541\\0.7546\\0.7542\\0.7548\\0.7543\\0.7540\\0.7546\\0.7542\\0.7547\\0.7541\\
0.7545\\0.7549\\0.7543\\0.7547\\0.7541\\0.7545\\0.7540\\0.7544\\0.7536\\0.7533\\
0.7538\\0.7544\\0.7548\\0.7542\\0.7549\\0.7545\\0.7552\\0.7557\\0.7553\\0.7558\\
0.7550\\0.7546\\0.7551\\0.7545\\0.7549\\0.7543\\0.7547\\0.7542\\0.7546\\0.7541\\
0.7547\\0.7543\\0.7548\\0.7542\\0.7545\\0.7550\\0.7544\\0.7548\\0.7542\\0.7546\\
0.7541\\0.7547\\0.7543\\0.7549\\0.7544\\0.7540\\0.7546\\0.7542\\0.7548\\0.7543\\
0.7547\\0.7541\\0.7545\\0.7549\\0.7543\\0.7547\\0.7542\\0.7546\\0.7540\\0.7545\\
0.7549\\0.7543\\0.7547\\0.7542\\0.7546\\0.7550\\0.7545\\0.7549\\0.7552\\0.7548\\0.7554\\};
\addplot[jp] coordinates{(1990,0.7554)(1990,0.7709)};
\addplot[tr] table[x expr=1990+\coordindex*25,y index=0,header=false,row sep=\\]{
0.7709\\0.7688\\0.7672\\0.7647\\0.7632\\0.7608\\0.7603\\0.7587\\0.7584\\0.7573\\
0.7575\\0.7565\\0.7568\\0.7559\\0.7561\\0.7552\\0.7555\\0.7546\\0.7550\\0.7543\\
0.7548\\0.7542\\0.7547\\0.7541\\0.7545\\0.7550\\0.7544\\0.7548\\0.7542\\0.7546\\
0.7540\\0.7545\\0.7549\\0.7543\\0.7547\\0.7541\\0.7546\\0.7551\\0.7544\\0.7548\\
0.7542\\0.7547\\0.7543\\0.7549\\0.7544\\0.7540\\0.7546\\0.7542\\0.7548\\0.7543\\0.7547\\0.7544\\};
\end{axis}
% ---------- [V]
\begin{axis}[panel,at={(105pt,-1031.5pt)},ymin=0.2322,ymax=0.5232,ytick={0.3,0.4,0.5},yticklabels={0.3000,0.4000,0.5000},
 xticklabels={0,500,1000,1500,2000,2500,3000}]
\addplot[tr] coordinates{(0,0.300)(6,0.330)(12,0.352)(18,0.362)(25,0.350)(32,0.305)(40,0.262)(50,0.250)(75,0.249)(100,0.252)(125,0.250)(150,0.255)(175,0.253)(200,0.258)(225,0.255)(250,0.260)(275,0.257)(300,0.262)(325,0.259)(350,0.264)(375,0.261)(400,0.266)(425,0.263)(450,0.268)(475,0.265)(500,0.270)(525,0.267)(550,0.271)(568,0.268)(578,0.275)(586,0.320)(594,0.355)(600,0.352)(608,0.310)(616,0.262)(625,0.238)(635,0.234)(650,0.240)(675,0.246)(700,0.244)(725,0.249)(750,0.247)(775,0.252)(800,0.250)(825,0.255)(850,0.253)(875,0.258)(900,0.256)(925,0.260)(950,0.258)(975,0.262)(1000,0.259)(1025,0.263)(1050,0.261)(1075,0.265)(1100,0.262)(1125,0.266)(1150,0.263)(1175,0.267)(1200,0.264)(1225,0.268)(1250,0.265)(1275,0.269)(1300,0.266)(1325,0.270)(1350,0.267)(1375,0.271)(1400,0.268)(1425,0.272)(1450,0.269)(1475,0.273)(1500,0.270)(1525,0.274)(1550,0.271)(1575,0.275)(1600,0.272)(1625,0.276)(1650,0.273)(1675,0.277)(1700,0.274)(1725,0.277)(1750,0.273)(1775,0.277)(1795,0.274)(1802,0.330)(1810,0.400)(1820,0.412)(1840,0.402)(1865,0.398)(1890,0.400)(1915,0.394)(1940,0.396)(1965,0.389)(1985,0.380)(1998,0.368)(2010,0.372)(2025,0.380)(2050,0.390)(2075,0.400)(2100,0.408)(2118,0.414)(2128,0.418)(2135,0.460)(2142,0.508)(2148,0.470)(2155,0.390)(2165,0.384)(2190,0.389)(2215,0.385)(2240,0.388)(2265,0.383)(2290,0.386)(2315,0.380)(2340,0.383)(2365,0.377)(2390,0.380)(2415,0.374)(2440,0.377)(2465,0.371)(2490,0.373)(2515,0.366)(2540,0.369)(2565,0.362)(2590,0.365)(2615,0.358)(2640,0.361)(2665,0.354)(2690,0.357)(2715,0.350)(2740,0.353)(2765,0.346)(2790,0.349)(2815,0.342)(2840,0.345)(2865,0.338)(2890,0.341)(2915,0.334)(2940,0.337)(2965,0.330)(2990,0.333)(3015,0.326)(3040,0.329)(3065,0.322)(3090,0.325)(3115,0.319)(3140,0.322)(3165,0.316)(3190,0.319)(3215,0.313)(3240,0.316)(3265,0.311)};
\end{axis}
% ---------- labels
\foreach \i in {0,...,18} {\node[anchor=east,font=\tl,text=black!85,inner sep=0pt] at (39pt,{-(104.3+50.2*\i)*1pt}) {\#\i};}
\node[rotate=90,font=\tl,text=black!85,inner sep=0pt] at (28.5pt,-1055.5pt) {[V]};
\node[anchor=base,font=\tl,text=black!85] at (620pt,-1113pt) {t [us]};
\node[anchor=base west,font=\fontsize{14.5}{15}\selectfont,text=mgc,inner sep=0pt] at (13pt,-1125.5pt) {Run 83, Event 297, 2019-03-09 09:08:44};
\node[anchor=base,font=\carl\fontsize{21}{21}\selectfont,text=black!40,inner sep=0pt] at (1104pt,-1098.3pt) {4};
% ---------- green boxes
\fill[gbc] (106.7pt,-10pt) rectangle (158.3pt,-70pt);
\fill[gbc] (232.7pt,-10pt) rectangle (284.3pt,-70pt);
\fill[gbc] (541.7pt,-10pt) rectangle (725.7pt,-70pt);
\fill[gbc] (774pt,-10pt) rectangle (825.7pt,-70pt);
\begin{scope}[every node/.style={anchor=base,font=\carl\fontsize{36}{36}\selectfont,inner sep=0pt}]
\node at (132.5pt,-55pt) {α};
\node at (258.5pt,-55pt) {α};
\node at (633.7pt,-55pt) {Test pulse};
\node at (799.8pt,-55pt) {α};
\end{scope}
% ---------- red dashed markers
\begin{scope}[rdc,line width=4.5pt,dash pattern=on 19pt off 12pt]
\draw (104.5pt,-48pt) -- (104.5pt,-1127pt);
\draw (285pt,-32pt) -- (285pt,-1127pt);
\draw (726pt,-47pt) -- (726pt,-1127pt);
\draw (770pt,-47pt) -- (770pt,-1127pt);
\end{scope}
\end{tikzpicture}
\end{document}
